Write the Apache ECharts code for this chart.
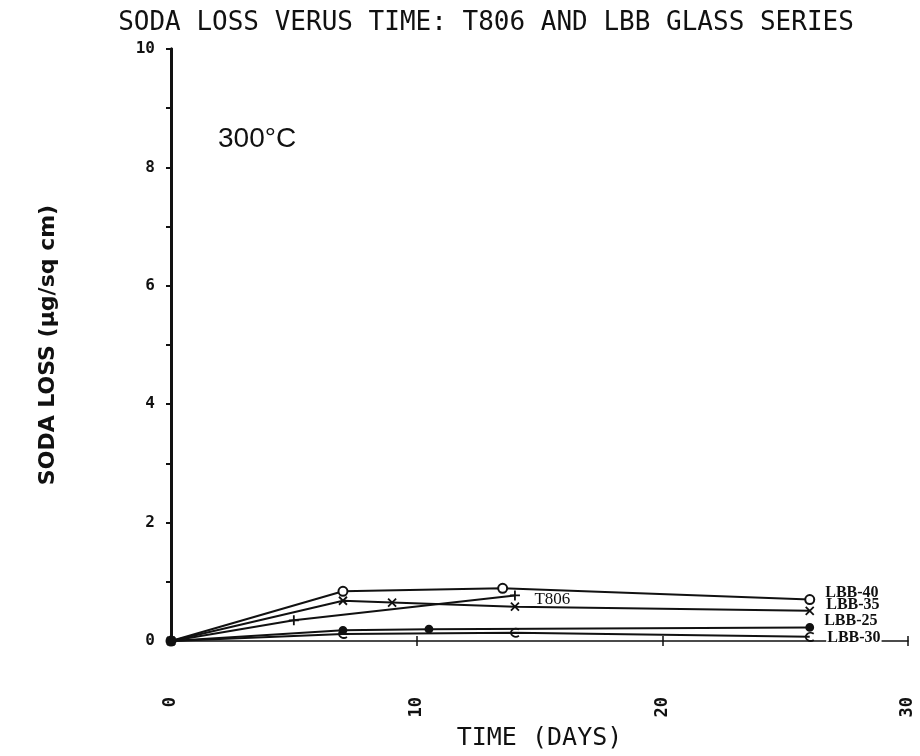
<!DOCTYPE html>
<html>
<head>
<meta charset="utf-8">
<script src="https://cdn.jsdelivr.net/npm/echarts@6/dist/echarts.min.js"></script>
<style>html,body{margin:0;padding:0;background:#fff}#c{width:920px;height:756px}</style>
</head>
<body>
<div id="c"></div>
<script>
const titleText = 'SODA LOSS VERUS TIME: T806 AND LBB GLASS SERIES';
const xTitle = 'TIME (DAYS)';
const yTitle = 'SODA LOSS (\u00b5g/sq cm)';
const tempNote = '300\u00b0C';
const xTicks = [0, 10, 20, 30];
const yTicks = [0, 2, 4, 6, 8, 10];

const seriesNames = ['LBB-40', 'LBB-35', 'T806', 'LBB-25', 'LBB-30'];
const daysLBB40 = [0, 7, 13.5, 26];
const lossLBB40 = [0, 0.84, 0.89, 0.70];
const daysLBB35 = [0, 7, 9, 14, 26];
const lossLBB35 = [0, 0.68, 0.65, 0.58, 0.51];
const daysT806 = [0, 5, 14];
const lossT806 = [0, 0.35, 0.77];
const daysLBB25 = [0, 7, 10.5, 26];
const lossLBB25 = [0, 0.18, 0.20, 0.23];
const daysLBB30 = [0, 7, 14, 26];
const lossLBB30 = [0, 0.12, 0.14, 0.07];

const seriesData = [
  [daysLBB40, lossLBB40],
  [daysLBB35, lossLBB35],
  [daysT806, lossT806],
  [daysLBB25, lossLBB25],
  [daysLBB30, lossLBB30]
];

// styles (kept apart from data)
const symbols = [
  'emptyCircle',
  'path://M0,0L10,10M10,0L0,10',
  'path://M5,0L5,10M0,5L10,5',
  'circle',
  'path://M9,2A4.5,4.5,0,1,0,9,9'
];
const symbolSizes = [9, 8, 10, 7, 8];
const labelOffsets = [[0, -7], [0, -6], [2, 4], [0, -7], [0, 1]];
const labelFonts = [
  {fontFamily: 'Liberation Serif', fontWeight: 'bold', fontSize: 16},
  {fontFamily: 'Liberation Serif', fontWeight: 'bold', fontSize: 16},
  {fontFamily: 'Liberation Serif', fontWeight: 'normal', fontSize: 17},
  {fontFamily: 'Liberation Serif', fontWeight: 'bold', fontSize: 16},
  {fontFamily: 'Liberation Serif', fontWeight: 'bold', fontSize: 16}
];

const chart = echarts.init(document.getElementById('c'), null, {renderer: 'canvas'});

const series = seriesData.map((pair, i) => {
  const d = pair[0], v = pair[1];
  const data = d.map((x, k) => {
    const item = {value: [x, v[k]]};
    if (k === d.length - 1) {
      item.label = Object.assign({
        show: true,
        position: 'right',
        distance: 10,
        offset: labelOffsets[i],
        formatter: seriesNames[i],
        color: '#111',
        backgroundColor: i === 4 ? '#fff' : 'transparent',
        padding: i === 4 ? [0, 1] : 0
      }, labelFonts[i]);
    }
    return item;
  });
  const sym = symbols[i];
  return {
    name: seriesNames[i],
    type: 'line',
    data: data,
    symbol: sym,
    symbolSize: symbolSizes[i],
    showSymbol: true,
    lineStyle: {color: '#111', width: 2},
    itemStyle: {
      color: sym.indexOf('path://') === 0 ? 'none' : '#111',
      borderColor: '#111',
      borderWidth: sym === 'emptyCircle' ? 2 : 1.8
    },
    animation: false,
    z: 3
  };
});

const baseY = {
  type: 'value', min: 0, max: 10, interval: 1,
  splitLine: {show: false},
  axisLine: {show: true, lineStyle: {color: '#111', width: 3}},
};

const option = {
  backgroundColor: '#fff',
  animation: false,
  title: {
    text: titleText,
    left: 481, top: 5, textAlign: 'center',
    textStyle: {fontFamily: 'DejaVu Sans Mono', fontWeight: 'normal', fontSize: 26, color: '#111'}
  },
  grid: {left: 171, right: 12, top: 49, bottom: 102},
  xAxis: [{
    type: 'value', min: 0, max: 30, interval: 10,
    splitLine: {show: false},
    axisLine: {show: true, onZero: false, lineStyle: {color: '#111', width: 1.5}},
    axisTick: {show: true, length: 5, lineStyle: {color: '#111', width: 1.5}},
    axisLabel: {
      rotate: 90, margin: 56,
      fontFamily: 'DejaVu Sans Mono', fontWeight: 'bold', fontSize: 17, color: '#111',
      formatter: v => xTicks.includes(v) ? String(v) : ''
    },
    name: xTitle, nameLocation: 'middle', nameGap: 85,
    nameTextStyle: {fontFamily: 'DejaVu Sans Mono', fontSize: 25, color: '#111'}
  }, {
    type: 'value', min: 0, max: 30, interval: 10, position: 'bottom',
    splitLine: {show: false},
    axisLine: {show: false},
    axisTick: {show: true, inside: true, length: 5, lineStyle: {color: '#111', width: 1.5}},
    axisLabel: {show: false}
  }],
  yAxis: [Object.assign({}, baseY, {
    axisTick: {show: true, length: 5, lineStyle: {color: '#111', width: 2}},
    axisLabel: {
      margin: 16,
      fontFamily: 'DejaVu Sans Mono', fontWeight: 'bold', fontSize: 16, color: '#111',
      formatter: v => yTicks.includes(v) ? String(v) : ''
    },
    name: yTitle, nameLocation: 'middle', nameGap: 112, nameRotate: 90,
    nameTextStyle: {fontFamily: 'DejaVu Sans', fontWeight: 'bold', fontSize: 22, color: '#111'}
  }), Object.assign({}, baseY, {
    axisTick: {show: true, inside: true, length: 5, lineStyle: {color: '#111', width: 2}},
    axisLabel: {show: false}
  })],
  graphic: [{
    type: 'text', left: 218, top: 125,
    style: {text: tempNote, font: '28px "Liberation Sans"', fill: '#111'}
  }],
  series: series
};

chart.setOption(option);
</script>
</body>
</html>
